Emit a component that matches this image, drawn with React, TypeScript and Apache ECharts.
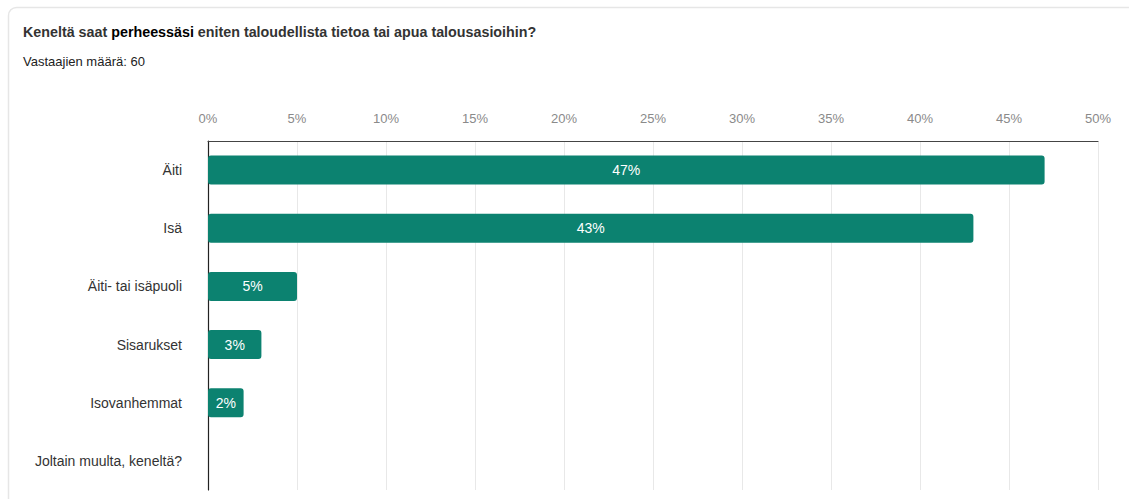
import React, { useEffect, useRef } from "react";
import * as echarts from "echarts";

const categories = [
  "Äiti",
  "Isä",
  "Äiti- tai isäpuoli",
  "Sisarukset",
  "Isovanhemmat",
  "Joltain muulta, keneltä?",
];
const values = [47, 43, 5, 3, 2, 0];
const tickMax = 50;
const tickStep = 5;
const titleText = "Keneltä saat {b|perheessäsi} eniten taloudellista tietoa tai apua talousasioihin?";
const subtitleText = "Vastaajien määrä: 60";

export default function App() {
  const ref = useRef<HTMLDivElement>(null);
  useEffect(() => {
    document.body.style.margin = "0";
    const chart = echarts.init(ref.current!, null, { renderer: "svg" });
    const font = "'Liberation Sans', Arial, sans-serif";
    chart.setOption({
      animation: false,
      backgroundColor: "#ffffff",
      textStyle: { fontFamily: font },
      graphic: [
        {
          type: "rect",
          shape: { x: 8.5, y: 7.5, width: 1300, height: 700, r: 8 },
          style: { fill: "#ffffff", stroke: "#e6e6e6", lineWidth: 1.5 },
          z: -10,
          silent: true,
        },
        {
          type: "text",
          x: 23,
          y: 25,
          style: {
            text: titleText,
            fill: "#333333",
            font: `bold 14.3px ${font}`,
            rich: {
              b: { fontWeight: "bold", fontSize: 14.3, fill: "#000000", fontFamily: font },
            },
          },
        },
        {
          type: "text",
          x: 23,
          y: 55,
          style: {
            text: subtitleText,
            fill: "#222222",
            font: `13px ${font}`,
          },
        },
      ],
      grid: { left: 208, right: 31, top: 141, bottom: 9, containLabel: false },
      xAxis: {
        type: "value",
        position: "top",
        min: 0,
        max: tickMax,
        interval: tickStep,
        axisLine: { show: true, lineStyle: { color: "#444444", width: 1 } },
        axisTick: { show: false },
        axisLabel: {
          formatter: "{value}%",
          color: "#8a8a8a",
          fontSize: 13,
          margin: 16,
          fontFamily: font,
        },
        splitLine: { show: true, lineStyle: { color: "#e8e8e8", width: 1 } },
      },
      yAxis: {
        type: "category",
        inverse: true,
        data: categories,
        axisLine: { show: true, lineStyle: { color: "#222222", width: 1.2 } },
        axisTick: { show: false },
        axisLabel: { color: "#333333", fontSize: 14, margin: 26, fontFamily: font },
        splitLine: { show: false },
      },
      series: [
        {
          type: "bar",
          data: values,
          barWidth: 29,
          itemStyle: { color: "#0c8270", borderRadius: 3 },
          label: {
            show: true,
            position: "inside",
            formatter: (p: any) => (p.value > 0 ? `${p.value}%` : ""),
            color: "#ffffff",
            fontSize: 14,
            fontFamily: font,
          },
        },
      ],
    });
    return () => chart.dispose();
  }, []);
  return (
    <div
      ref={ref}
      style={{ position: "absolute", left: 0, top: 0, width: 1129, height: 499 }}
    />
  );
}
